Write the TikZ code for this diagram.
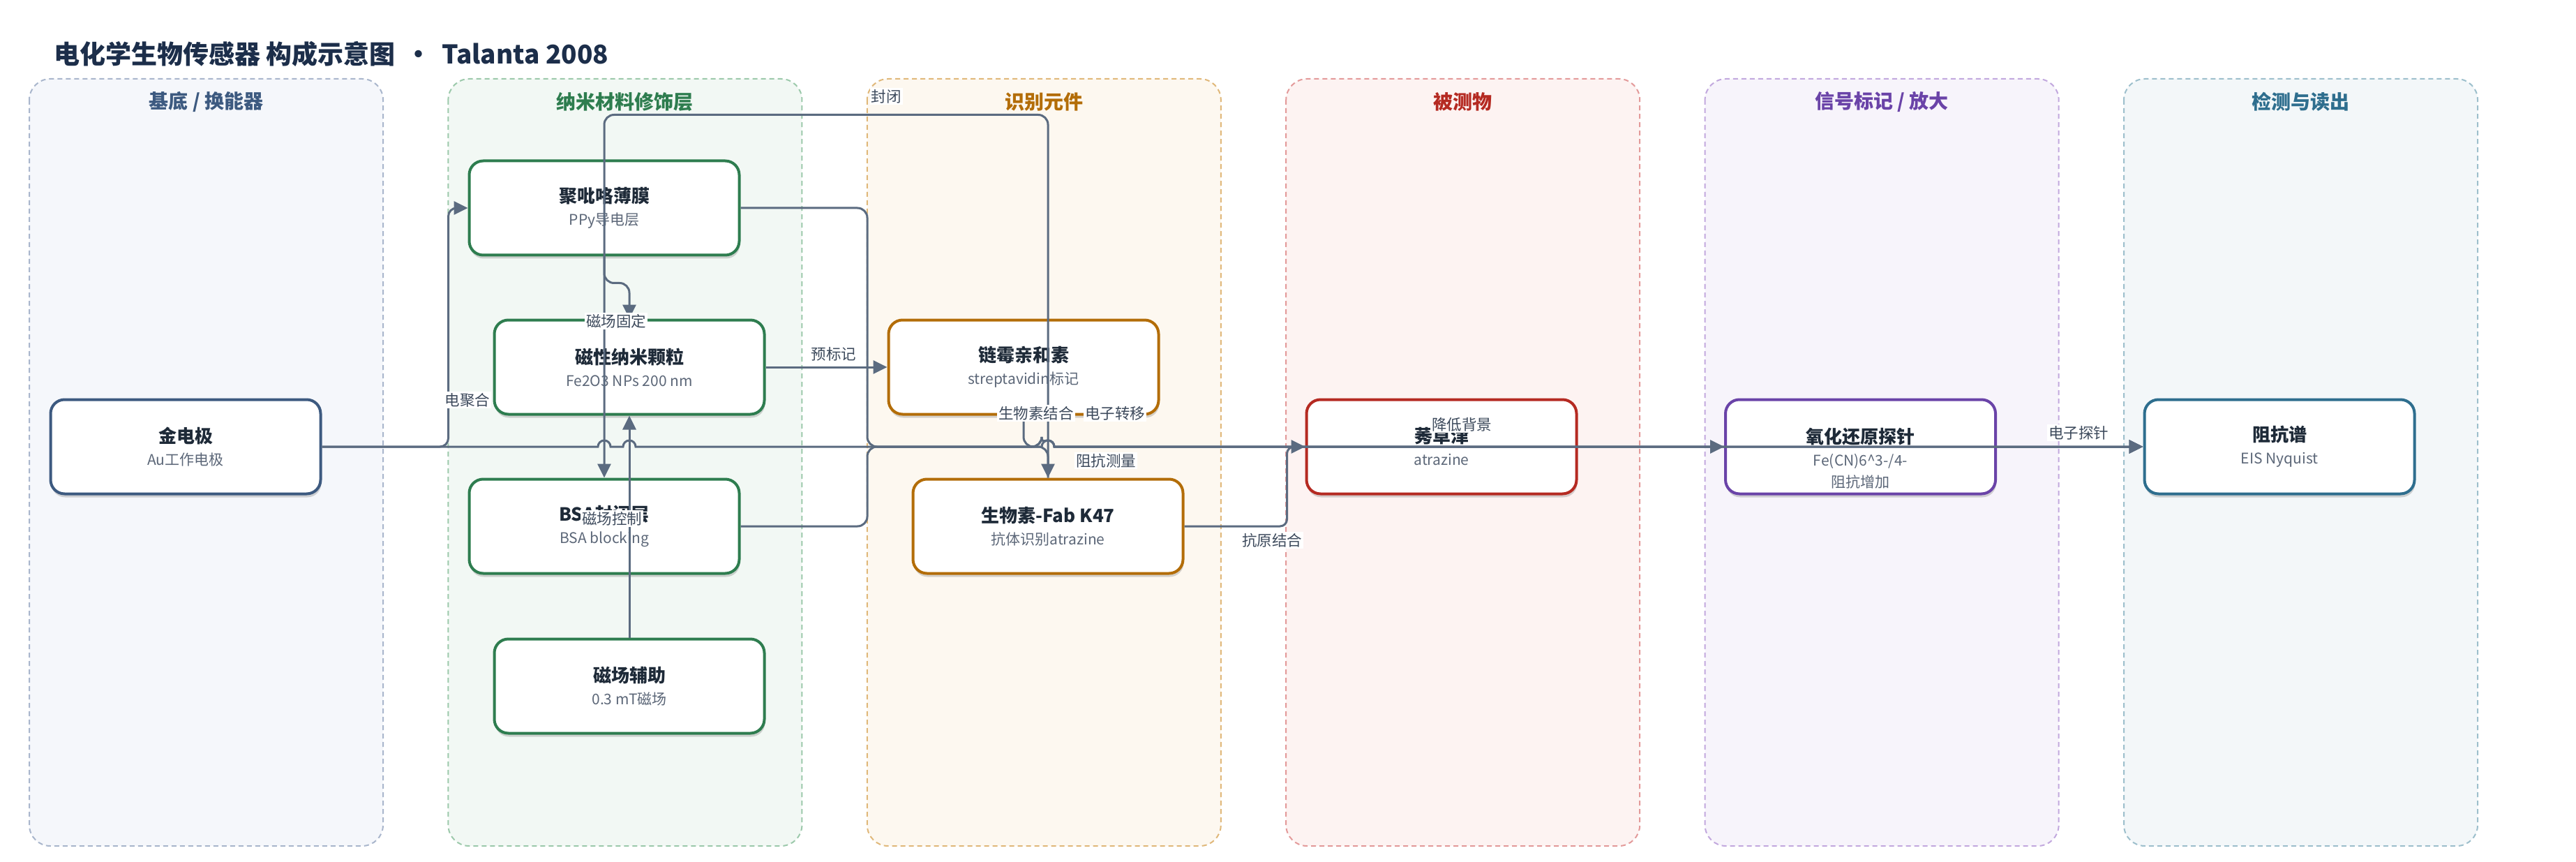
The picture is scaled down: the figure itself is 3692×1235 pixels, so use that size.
\documentclass[tikz,border=0pt]{standalone}
\usepackage{fontspec}
\setmainfont{Noto Sans CJK SC}
\usetikzlibrary{arrows.meta,positioning,shadows}

\definecolor{ink}{HTML}{1E2A38}
\definecolor{subink}{HTML}{5C6778}
\definecolor{wire}{HTML}{5B6B80}
\definecolor{lblink}{HTML}{3D4A5C}
\definecolor{titleink}{HTML}{1C2E4A}
% lane colours: fill, dashed border, heading / box border
\definecolor{fillA}{HTML}{F5F7FB}\definecolor{drawA}{HTML}{A9B6CC}\definecolor{textA}{HTML}{3D5A80}
\definecolor{fillB}{HTML}{F2F8F4}\definecolor{drawB}{HTML}{9CC9AB}\definecolor{textB}{HTML}{2E7D4F}
\definecolor{fillC}{HTML}{FDF8F0}\definecolor{drawC}{HTML}{E0B87A}\definecolor{textC}{HTML}{B36D08}
\definecolor{fillD}{HTML}{FDF3F2}\definecolor{drawD}{HTML}{E39A9A}\definecolor{textD}{HTML}{B52A22}
\definecolor{fillE}{HTML}{F7F4FB}\definecolor{drawE}{HTML}{C2A8DE}\definecolor{textE}{HTML}{6A43A8}
\definecolor{fillF}{HTML}{F3F7F9}\definecolor{drawF}{HTML}{9DBFCC}\definecolor{textF}{HTML}{2E6E8E}

\newcommand{\nodetitle}[1]{{\bfseries #1}}
\newcommand{\nodesub}[1]{{\fontsize{10.5}{15.5}\selectfont\color{subink}#1}}

\tikzset{
    node distance=104.75pt, % gap between the boxes of the last three lanes
    box/.style={rectangle, rounded corners=10pt, draw, line width=2pt, fill=white,
        minimum width=193.5pt, minimum height=67.5pt, align=center, text=ink,
        font=\fontsize{13}{16}\selectfont,
        drop shadow={shadow xshift=0.5pt, shadow yshift=-2.5pt, opacity=0.16, fill=black}},
    lanebox/.style={rounded corners=15pt, line width=1pt, dash pattern=on 3.5pt off 2.5pt},
    lanetitle/.style={font=\fontsize{14}{16}\selectfont\bfseries},
    wire/.style={draw=wire, line width=1.5pt, -{Triangle[length=10pt,width=9.5pt]}}, % every connector
    lbl/.style={fill=white, inner sep=1pt, text=lblink, font=\fontsize{10.75}{12}\selectfont},
}

\begin{document}
\begin{tikzpicture}[x=0.5pt, y=0.5pt]
  \useasboundingbox (0,0) rectangle (3692,-1235);

  \node[anchor=west, inner sep=0pt, text=titleink, font=\fontsize{18.5}{22}\selectfont\bfseries] (title) at (77,-77)
      {电化学生物传感器 构成示意图 \,·\, Talanta 2008};

  % lanes
  \foreach \i/\name/\col in {0/{基底 / 换能器}/A, 1/纳米材料修饰层/B, 2/识别元件/C,
                             3/被测物/D, 4/{信号标记 / 放大}/E, 5/检测与读出/F} {
    \pgfmathsetmacro{\x}{42+600.4*\i}
    \draw[lanebox, draw=draw\col, fill=fill\col] (\x,-113) rectangle ++(507,-1099);
    \node[lanetitle, text=text\col] (lt\col) at (\x+253.5,-146) {\name};
  }

  % boxes
  \node[box, draw=textA] (jin) at (266,-640) {\nodetitle{金电极}\\\nodesub{Au工作电极}};
  \node[box, draw=textB] (ppy) at (866,-298) {\nodetitle{聚吡咯薄膜}\\\nodesub{PPy导电层}};
  \node[box, draw=textB] (mnp) at (902,-526) {\nodetitle{磁性纳米颗粒}\\\nodesub{Fe2O3 NPs 200 nm}};
  \node[box, draw=textB] (bsa) at (866,-754) {\nodetitle{BSA封闭层}\\\nodesub{BSA blocking}};
  \node[box, draw=textB] (mag) at (902,-983) {\nodetitle{磁场辅助}\\\nodesub{0.3 mT磁场}};
  \node[box, draw=textC] (stv) [right=87pt of mnp] {\nodetitle{链霉亲和素}\\\nodesub{streptavidin标记}};
  \node[box, draw=textC] (fab) at (1502,-754) {\nodetitle{生物素-Fab K47}\\\nodesub{抗体识别atrazine}};
  \node[box, draw=textD] (atz) at (2066,-640) {\nodetitle{莠草津}\\\nodesub{atrazine}};
  \node[box, draw=textE] (probe) [right=of atz] {\nodetitle{氧化还原探针}\\\nodesub{\smash{\begin{tabular}[t]{@{}c@{}}Fe(CN)6\textasciicircum 3-/4-\\阻抗增加\end{tabular}}}};
  \node[box, draw=textF] (eis) [right=of probe] {\nodetitle{阻抗谱}\\\nodesub{EIS Nyquist}};

  % connectors
  \draw[wire, rounded corners=6pt] (jin.east) -| ([xshift=-14pt]ppy.west) -- (ppy.west);
  \draw[wire] (jin.east) -- (857,-640) arc[start angle=180, end angle=0, radius=4.5pt]
      -- (893,-640) arc[start angle=180, end angle=0, radius=4.5pt]
      -- (1493,-640) arc[start angle=180, end angle=0, radius=4.5pt] -- (eis.west);
  \draw[wire, rounded corners=7pt] (ppy.east) -| (1243,-640) -- (1493,-640)
      [sharp corners] arc[start angle=180, end angle=0, radius=4.5pt] -- (eis.west);
  \draw[wire, rounded corners=7pt] (bsa.east) -| (1243,-640) -- (1493,-640)
      [sharp corners] arc[start angle=180, end angle=0, radius=4.5pt] -- (probe.west);
  \draw[wire, rounded corners=7pt] (stv.south) |- (1502,-640) -- (fab.north);
  \draw[wire, rounded corners=7pt] (fab.north) |- ([yshift=32pt]ppy.north) -- (bsa.north);
  \draw[wire, rounded corners=7pt] (ppy.south) -- ++(0,-19pt) -| (mnp.north);
  \draw[wire] (mnp.east) -- (stv.west);
  \draw[wire] (mag.north) -- (mnp.south);
  \draw[wire, rounded corners=5pt] (fab.east) -| ([xshift=-13pt]atz.west) -- (atz.west);
  \draw[wire] (probe.east) -- (eis.west);

  % connector labels
  \node[lbl] (l_djh) at (670,-573) {电聚合};
  \node[lbl] (l_cgd) at (883,-460) {磁场固定};
  \node[lbl] (l_ckz) at (877,-743) {磁场控制};
  \node[lbl] (l_fb) at (1270,-138) {封闭};
  \node[lbl] (l_ybj) at (1195,-507) {预标记};
  \node[lbl] (l_swj) at (1485,-592) {生物素结合};
  \node[lbl] (l_dzzy) at (1598,-592) {电子转移};
  \node[lbl] (l_zkcl) at (1585,-660) {阻抗测量};
  \node[lbl] (l_kyjh) at (1823,-774) {抗原结合};
  \node[lbl] (l_jdbj) at (2095,-608) {降低背景};
  \node[lbl] (l_dztz) at (2979,-620) {电子探针};
\end{tikzpicture}
\end{document}
